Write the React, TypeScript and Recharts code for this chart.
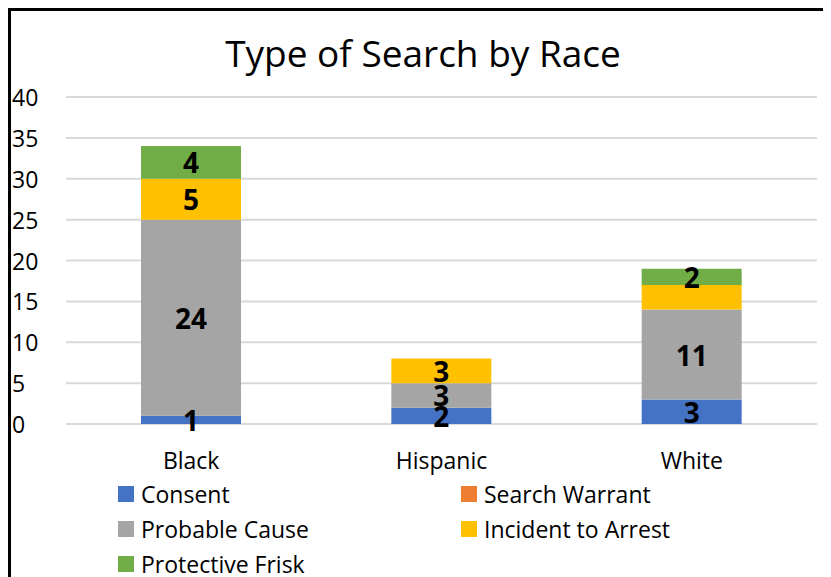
import React from 'react';
import { BarChart, Bar, XAxis, YAxis, CartesianGrid, Legend, LabelList } from 'recharts';

const categories = ['Black', 'Hispanic', 'White'];
const consent = [1, 2, 3];
const searchWarrant = [0, 0, 0];
const probableCause = [24, 3, 11];
const incidentToArrest = [5, 3, 3];
const protectiveFrisk = [4, 0, 2];
const yTicks = [0, 5, 10, 15, 20, 25, 30, 35, 40];
// the original hides this one data label (it collides with its neighbour)
const hiddenLabels = [{ series: 'incidentToArrest', race: 'White' }];

const SERIES = [
    { key: 'consent', name: 'Consent', color: '#4472C4', values: consent },
    { key: 'searchWarrant', name: 'Search Warrant', color: '#ED7D31', values: searchWarrant },
    { key: 'probableCause', name: 'Probable Cause', color: '#A5A5A5', values: probableCause },
    { key: 'incidentToArrest', name: 'Incident to Arrest', color: '#FFC000', values: incidentToArrest },
    { key: 'protectiveFrisk', name: 'Protective Frisk', color: '#70AD47', values: protectiveFrisk },
];

const data = categories.map((race, i) => {
    const row: Record<string, any> = { race };
    SERIES.forEach(s => { row[s.key] = s.values[i]; });
    return row;
});

const FONT = '"Open Sans", sans-serif';

const makeLabel = (seriesKey: string) => ({ x, y, width, height, value, index }: any) => {
    if (!value) return null;
    if (hiddenLabels.some(h => h.series === seriesKey && h.race === categories[index])) return null;
    return (
        <text x={x + width / 2} y={y + height / 2} textAnchor="middle" dominantBaseline="central"
            fontFamily={FONT} fontSize={28} fontWeight={700} fill="#000">
            {value}
        </text>
    );
};

const YTick = ({ y, payload }: any) => (
    <text x={1} y={y} dominantBaseline="central" textAnchor="start" fontFamily={FONT} fontSize={23} fill="#000">
        {payload.value}
    </text>
);

const XTick = ({ x, y, payload }: any) => (
    <text x={x} y={y} dy={37} textAnchor="middle" fontFamily={FONT} fontSize={23} fill="#000">
        {payload.value}
    </text>
);

// two-column legend like the Excel original
const LegendContent = () => (
    <div style={{ position: 'relative', width: 820, height: 93, fontFamily: FONT, fontSize: 23, color: '#000' }}>
        {SERIES.map((s, i) => (
            <div key={s.key} style={{
                position: 'absolute', left: i % 2 === 0 ? 107 : 450, top: Math.floor(i / 2) * 35 - 8,
                height: 35, display: 'flex', alignItems: 'center', whiteSpace: 'nowrap'
            }}>
                <span style={{ width: 16, height: 16, background: s.color, display: 'inline-block', marginRight: 7 }} />
                <span style={{ lineHeight: 'normal' }}>{s.name}</span>
            </div>
        ))}
    </div>
);

export default function App() {
    return (
        <div style={{
            width: 823, height: 569, borderLeft: '3px solid #000', borderTop: '3px solid #000',
            boxSizing: 'border-box', overflow: 'hidden', background: '#fff', position: 'relative'
        }}>
            <BarChart width={820} height={566} data={data} margin={{ top: 86, right: 14, left: 0, bottom: 0 }}>
                <text x={412} y={56} textAnchor="middle" fontFamily={FONT} fontSize={37} fill="#000">
                    Type of Search by Race
                </text>
                <CartesianGrid vertical={false} stroke="#D9D9D9" strokeWidth={2} />
                <XAxis dataKey="race" axisLine={false} tickLine={false} height={60} tick={<XTick />} interval={0} />
                <YAxis domain={[0, 40]} ticks={yTicks} width={55} axisLine={false} tickLine={false} tick={<YTick />} />
                <Legend content={<LegendContent />} wrapperStyle={{ left: 0, bottom: 0, width: 820, height: 93 }} />
                {SERIES.map(s => (
                    <Bar key={s.key} dataKey={s.key} name={s.name} stackId="a" fill={s.color} barSize={100} isAnimationActive={false}>
                        <LabelList dataKey={s.key} content={makeLabel(s.key)} />
                    </Bar>
                ))}
            </BarChart>
        </div>
    );
}
